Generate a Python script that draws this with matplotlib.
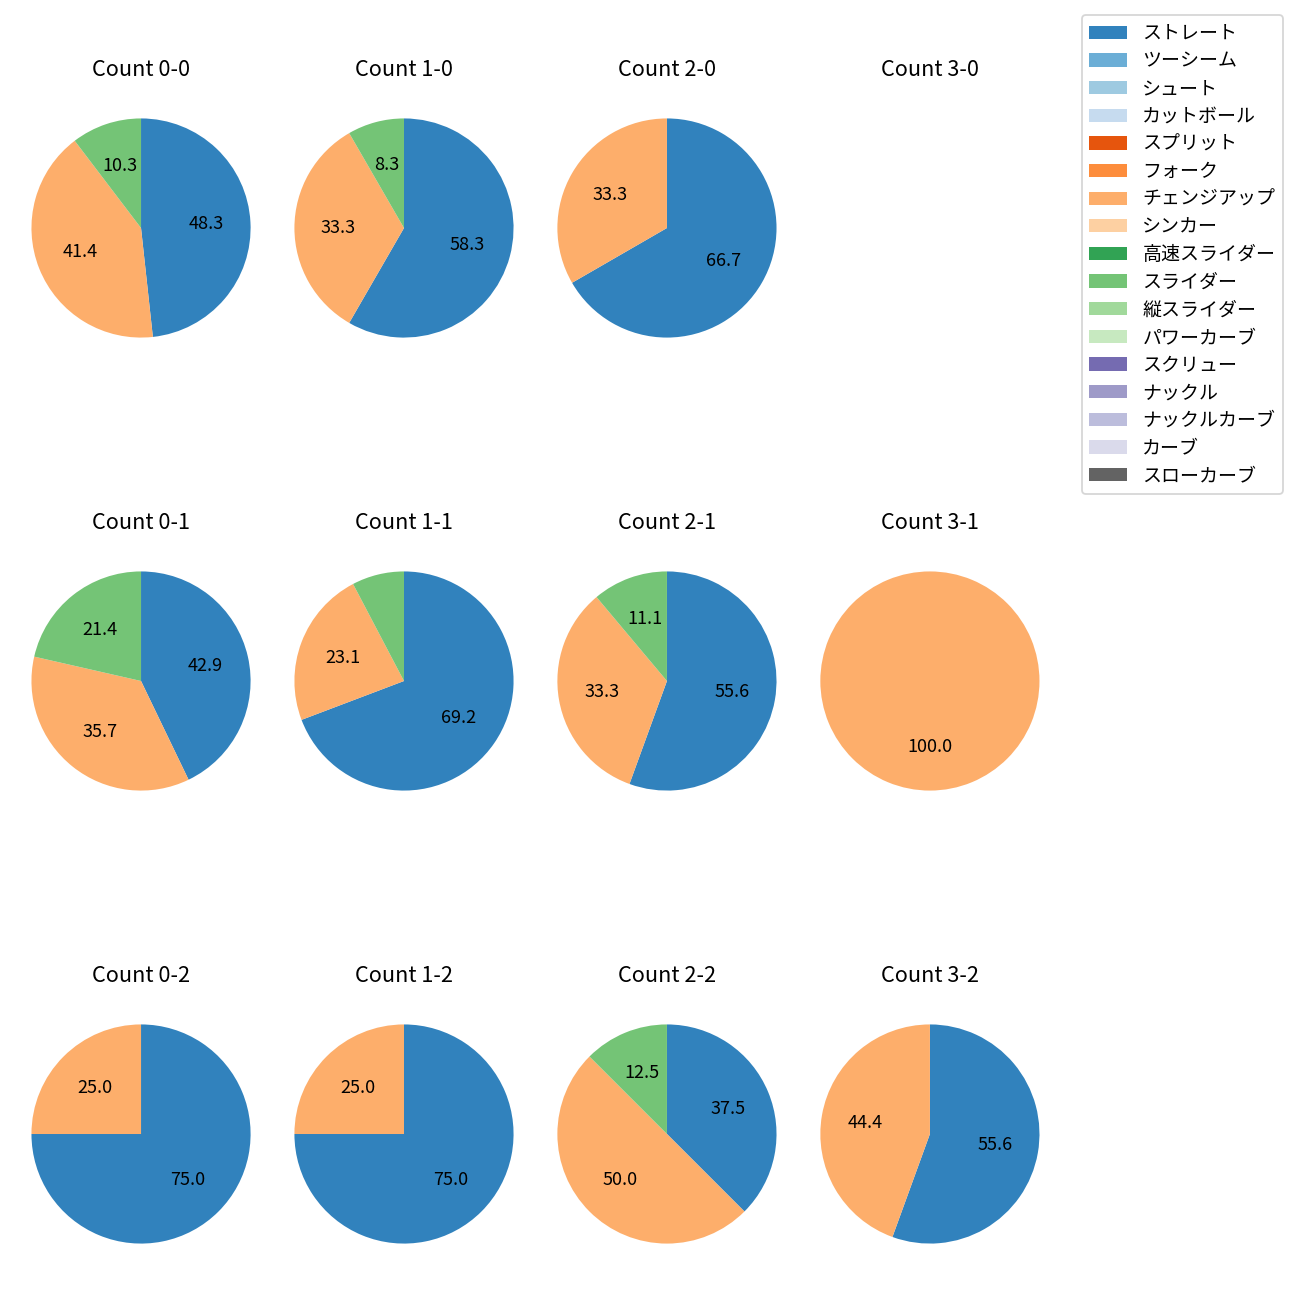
import numpy as np
import matplotlib
matplotlib.use('Agg')
import matplotlib.pyplot as plt
from matplotlib.patches import Patch

plt.rcParams['font.family'] = ['Noto Sans CJK JP', 'DejaVu Sans']

pitch_types = ['ストレート', 'ツーシーム', 'シュート', 'カットボール', 'スプリット', 'フォーク',
               'チェンジアップ', 'シンカー', '高速スライダー', 'スライダー', '縦スライダー',
               'パワーカーブ', 'スクリュー', 'ナックル', 'ナックルカーブ', 'カーブ', 'スローカーブ']
colors = [plt.cm.tab20c(i) for i in range(len(pitch_types))]

# counts per ball-strike count: ストレート, チェンジアップ, スライダー
counts = {
    '0-0': [14, 12, 3],
    '1-0': [7, 4, 1],
    '2-0': [2, 1, 0],
    '3-0': [0, 0, 0],
    '0-1': [6, 5, 3],
    '1-1': [9, 3, 1],
    '2-1': [5, 3, 1],
    '3-1': [0, 1, 0],
    '0-2': [3, 1, 0],
    '1-2': [3, 1, 0],
    '2-2': [3, 4, 1],
    '3-2': [5, 4, 0],
}
used = ['ストレート', 'チェンジアップ', 'スライダー']

fig, axes = plt.subplots(3, 4, figsize=(10, 10))
fig.subplots_adjust(left=0.0242, right=0.7996, top=0.9331, bottom=0.0192, wspace=0.2, hspace=0.606)

for strikes in range(3):
    for balls in range(4):
        ax = axes[strikes, balls]
        key = f'{balls}-{strikes}'
        vals = np.array(counts[key])
        ax.set_title('Count ' + key)
        if vals.sum() == 0:
            ax.axis('off')
            continue
        mask = vals > 0
        cols = [colors[pitch_types.index(u)] for u, m in zip(used, mask) if m]
        ax.pie(vals[mask], colors=cols, startangle=90, counterclock=False, radius=1.25,
               autopct=lambda p: '%.1f' % p if p >= 8 else '')
        ax.set_aspect('equal', adjustable='datalim')

handles = [Patch(facecolor=c, label=l) for c, l in zip(colors, pitch_types)]
fig.legend(handles=handles, loc='upper right', bbox_to_anchor=(0.9942, 0.9954),
           fontsize=10.5, labelspacing=0.35)

fig.savefig('out.png', dpi=130)
